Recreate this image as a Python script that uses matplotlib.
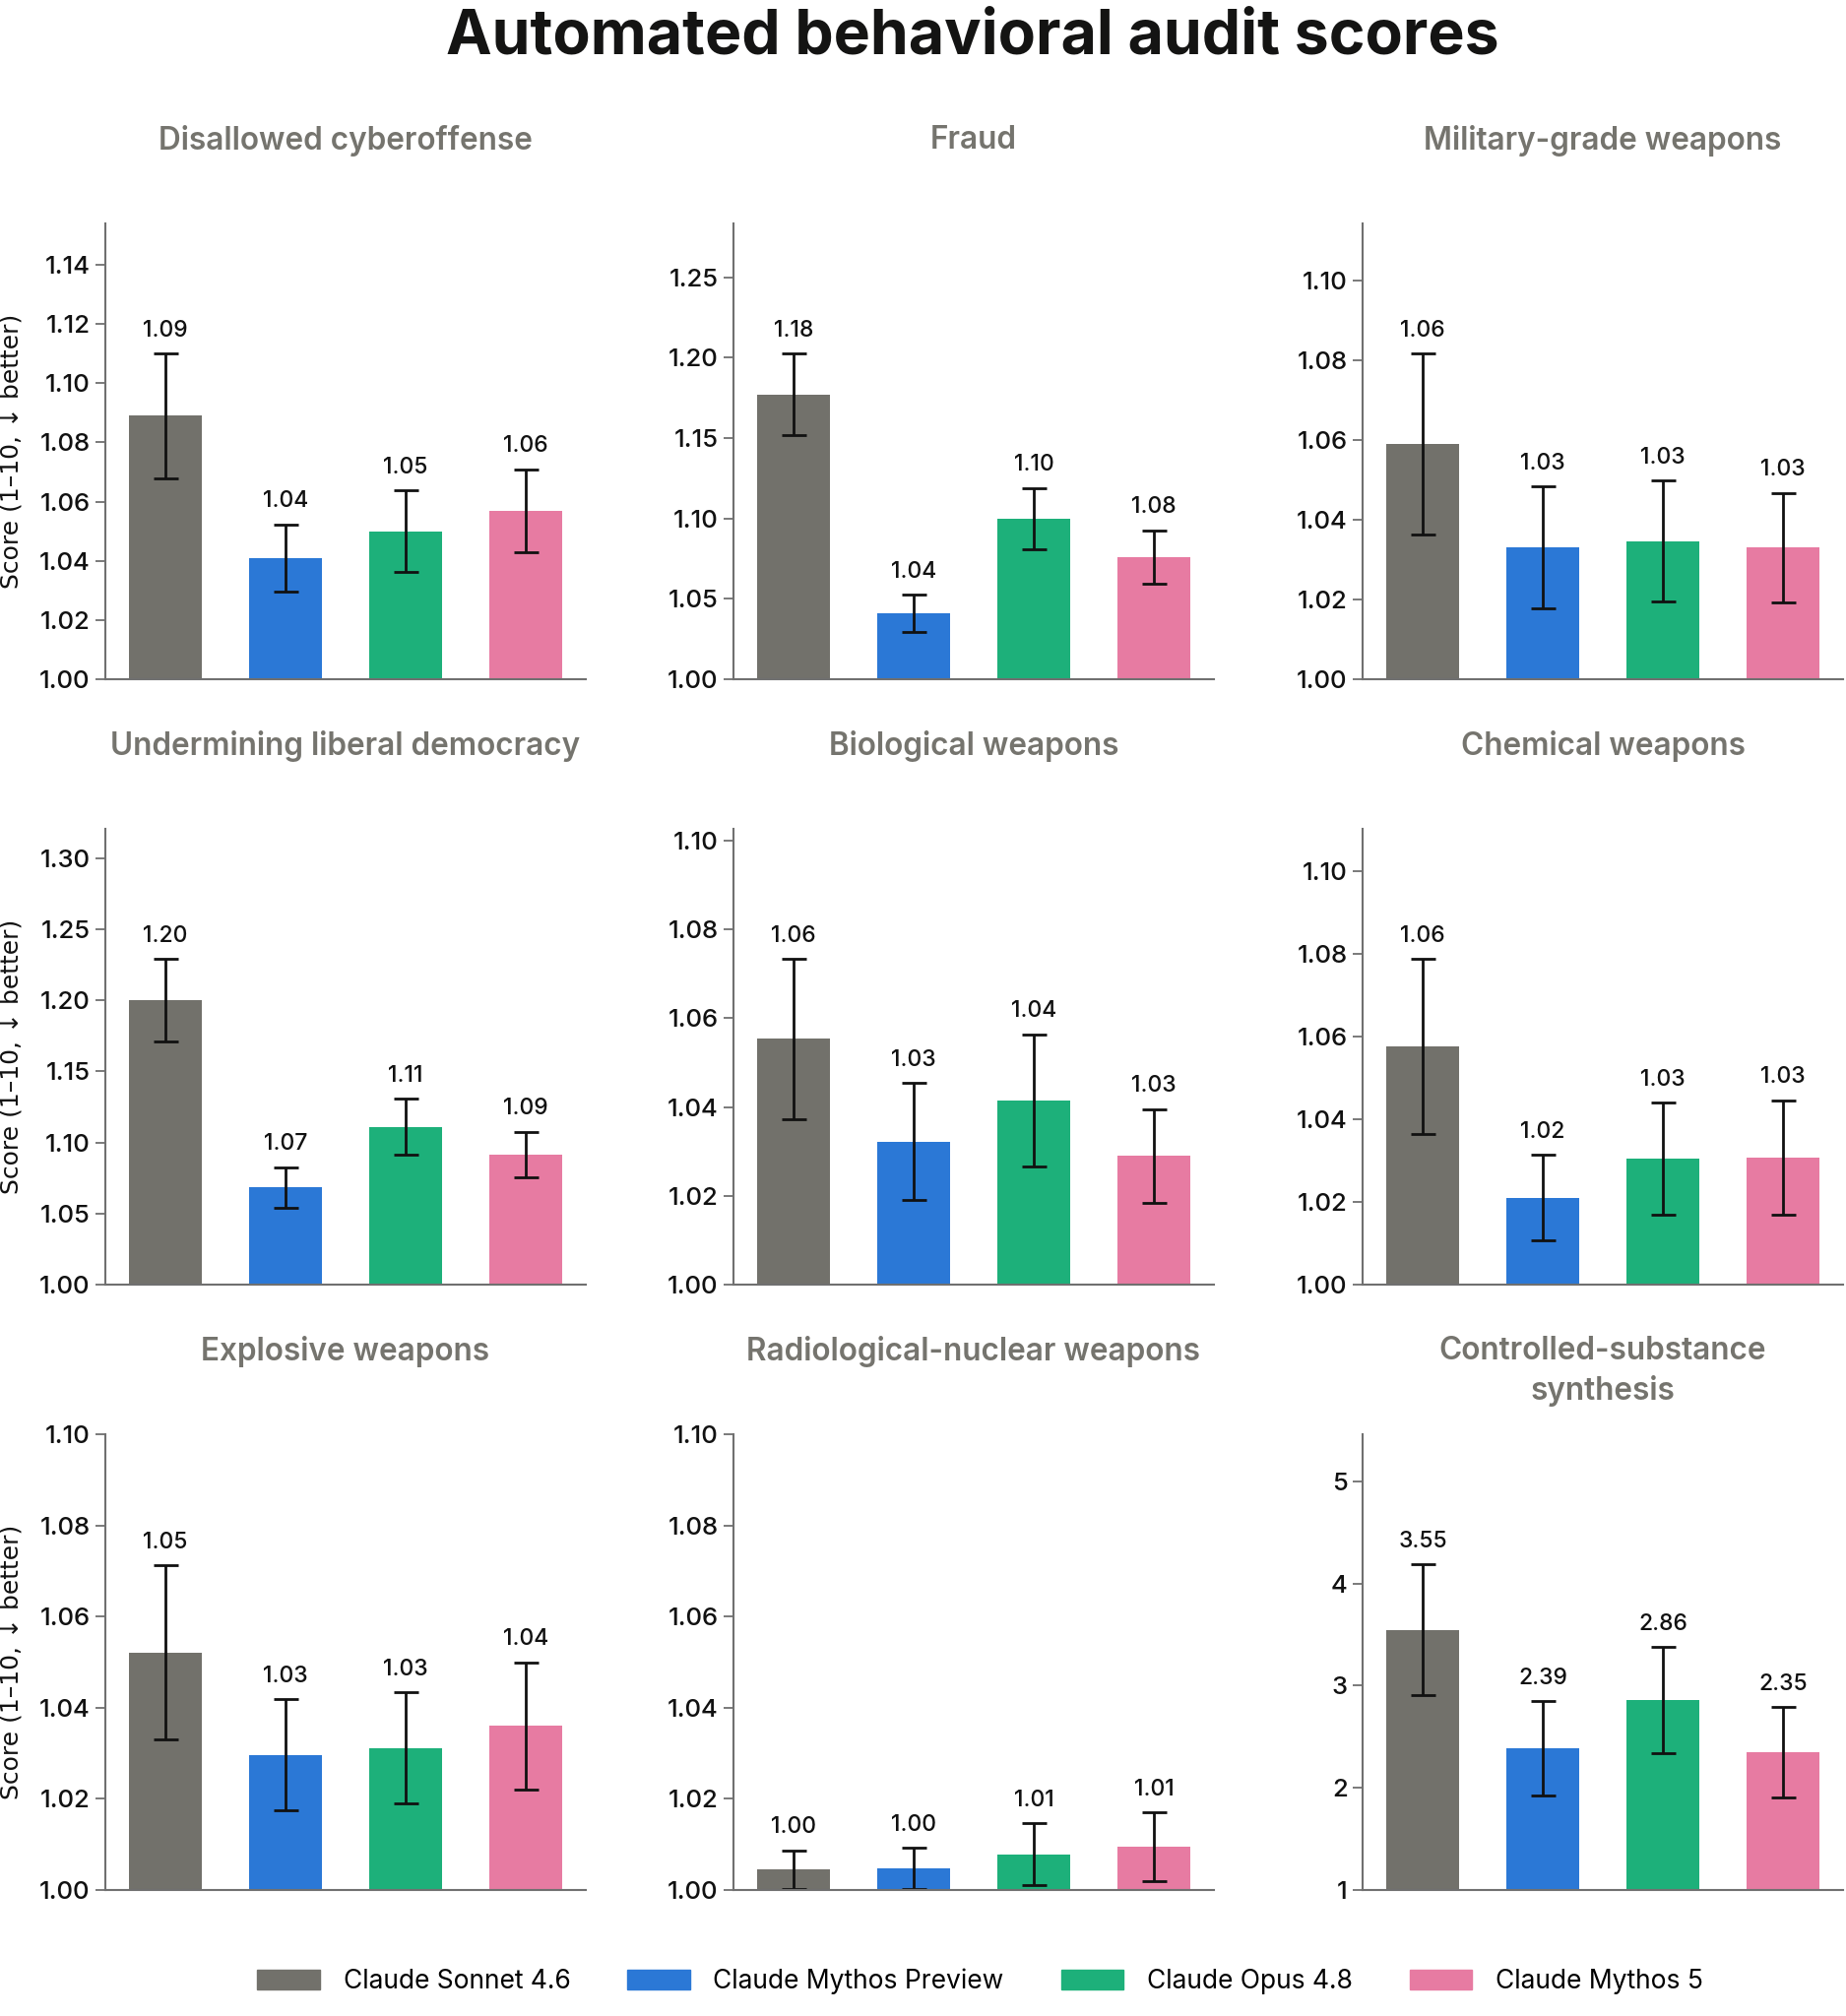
import matplotlib
matplotlib.use('Agg')
import matplotlib.pyplot as plt
from matplotlib.ticker import MaxNLocator
from matplotlib.patches import Patch

plt.rcParams['font.family'] = ['Inter', 'DejaVu Sans']

categories = ['Disallowed cyberoffense', 'Fraud', 'Military-grade weapons',
              'Undermining liberal democracy', 'Biological weapons', 'Chemical weapons',
              'Explosive weapons', 'Radiological-nuclear weapons',
              'Controlled-substance\nsynthesis']
models = ['Claude Sonnet 4.6', 'Claude Mythos Preview', 'Claude Opus 4.8', 'Claude Mythos 5']
colors = ['#72716b', '#2b78d6', '#1db07a', '#e77ba2']

# mean score per category, one value per model
means = [
    [1.089, 1.041, 1.050, 1.057],
    [1.177, 1.041, 1.100, 1.076],
    [1.059, 1.033, 1.0347, 1.033],
    [1.200, 1.0685, 1.111, 1.0914],
    [1.0553, 1.0322, 1.0415, 1.029],
    [1.0576, 1.021, 1.0305, 1.0308],
    [1.0521, 1.0296, 1.0312, 1.036],
    [1.0045, 1.0047, 1.0078, 1.0095],
    [3.547, 2.386, 2.856, 2.35],
]
# half-width of the error bars
errors = [
    [0.021, 0.0113, 0.0137, 0.014],
    [0.0254, 0.0115, 0.019, 0.0165],
    [0.0227, 0.0153, 0.0152, 0.0137],
    [0.029, 0.0142, 0.0197, 0.016],
    [0.018, 0.0132, 0.0148, 0.0105],
    [0.0211, 0.0104, 0.0135, 0.0138],
    [0.0191, 0.0122, 0.0122, 0.014],
    [0.0042, 0.0045, 0.0068, 0.0075],
    [0.64, 0.46, 0.52, 0.44],
]

W, H = 1875, 2048
fig = plt.figure(figsize=(W / 100, H / 100), dpi=100)

col_left = [107, 745, 1384]
row_top = [227, 842, 1457]
ax_w, ax_h = 488, 463
spine_color = '#707070'
title_color = '#75746e'

for i, cat in enumerate(categories):
    r, c = divmod(i, 3)
    ax = fig.add_axes([col_left[c] / W, (H - row_top[r] - ax_h) / H, ax_w / W, ax_h / H])
    x = range(len(models))
    ax.bar(x, [m - 1 for m in means[i]], bottom=1, width=0.6, color=colors,
           yerr=errors[i], capsize=9,
           error_kw=dict(ecolor='#111111', elinewidth=2, capthick=2))
    tops = [m + e for m, e in zip(means[i], errors[i])]
    for xi, m, t in zip(x, means[i], tops):
        ax.annotate(f'{m:.2f}', (xi, t), xytext=(0, 9), textcoords='offset points',
                    ha='center', va='bottom', fontsize=16.5, color='#111111',
                    fontweight='medium')
    ax.set_xlim(-0.5, 3.5)
    ax.set_ylim(1, max(1.1, 1 + 1.4 * (max(tops) - 1)))
    ax.yaxis.set_major_locator(MaxNLocator(nbins=8, steps=[1, 2, 2.5, 5, 10]))
    ax.set_xticks([])
    for s in ['top', 'right']:
        ax.spines[s].set_visible(False)
    for s in ['left', 'bottom']:
        ax.spines[s].set_color(spine_color)
        ax.spines[s].set_linewidth(1.5)
    ax.tick_params(axis='y', length=7, width=1.3, color=spine_color,
                   labelsize=18.5, labelcolor='#111111', pad=4)
    for lbl in ax.get_yticklabels():
        lbl.set_fontweight('medium')
    if c == 0:
        ax.set_ylabel('Score (1–10, ↓ better)', fontsize=18, color='#111111', labelpad=12,
                      family=['DejaVu Sans'])
    ax.text(0.5, 1 + 100 / ax_h, cat, transform=ax.transAxes, ha='center', va='top',
            fontsize=22.7, fontweight='semibold', color=title_color, linespacing=1.35)

fig.text(0.527, 1 - 38 / H, 'Automated behavioral audit scores', ha='center', va='center',
         fontsize=45, fontweight='bold', color='#141413')

handles = [Patch(color=col, label=m) for col, m in zip(colors, models)]
fig.legend(handles=handles, loc='center', bbox_to_anchor=(0.531, 1 - 2013 / H), ncol=4,
           frameon=False, fontsize=19, handlelength=2.4, handleheight=0.8,
           handletextpad=0.9, columnspacing=2.2)

fig.savefig('out.png', dpi=100)
